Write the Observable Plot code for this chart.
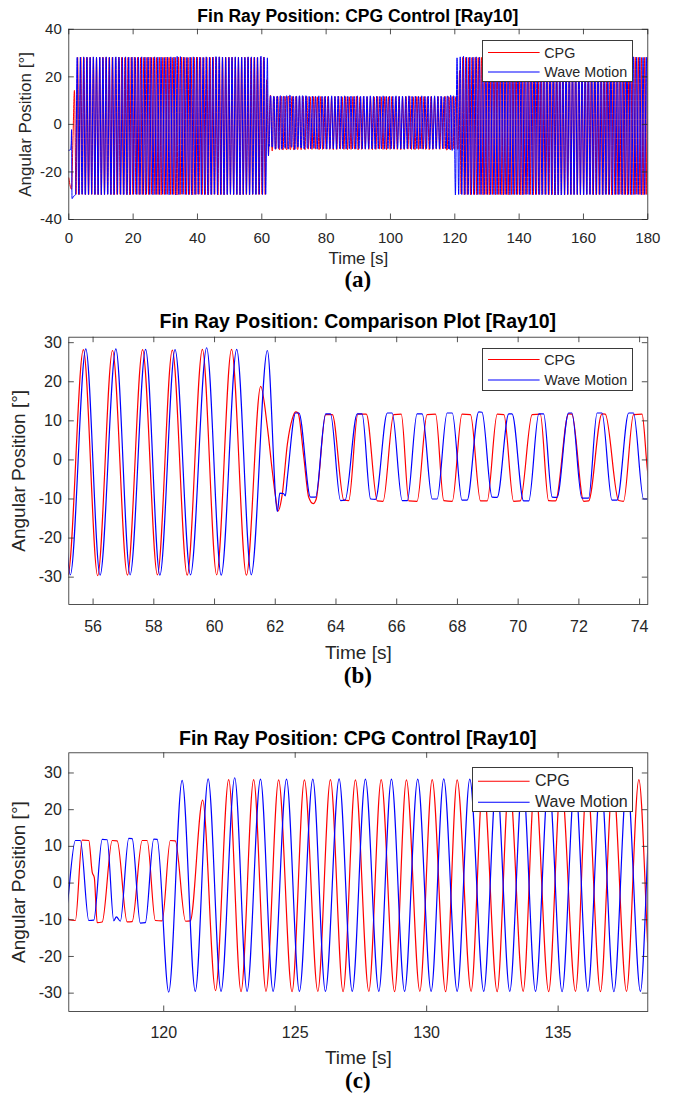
<!DOCTYPE html>
<html><head><meta charset="utf-8">
<script src="https://cdn.jsdelivr.net/npm/d3@7"></script>
<script src="https://cdn.jsdelivr.net/npm/@observablehq/plot@0.6"></script>
<style>
body{margin:0;background:#fff;}
#root{position:relative;width:673px;height:1097px;overflow:hidden;font-family:"Liberation Sans",Arial,sans-serif;}
.title{position:absolute;left:68.3px;width:579px;text-align:center;font-weight:bold;color:#000;line-height:1;white-space:nowrap;}
.cap{position:absolute;left:68.3px;width:579px;text-align:center;font-family:"Liberation Serif","Times New Roman",serif;font-weight:bold;line-height:0.8;color:#000;}
.legend{position:absolute;background:#fff;border:1px solid #3a3a3a;box-sizing:border-box;}
.legend svg{position:absolute;left:0;top:0;}
.legend .tx{position:absolute;line-height:1;color:#262626;white-space:nowrap;}
</style>
</head><body><div id="root"></div><script>
// ---------- titles / labels ----------
const titles = ["Fin Ray Position: CPG Control [Ray10]", "Fin Ray Position: Comparison Plot [Ray10]", "Fin Ray Position: CPG Control [Ray10]"];
const captions = ["(a)", "(b)", "(c)"];
const seriesNames = ["CPG", "Wave Motion"];
const xLabel = "Time [s]";
const yLabel = "Angular Position [°]";

// ---------- tick values ----------
const xTicksA = [0, 20, 40, 60, 80, 100, 120, 140, 160, 180];
const yTicksA = [-40, -20, 0, 20, 40];
const xTicksB = [56, 58, 60, 62, 64, 66, 68, 70, 72, 74];
const yTicksB = [-30, -20, -10, 0, 10, 20, 30];
const xTicksC = [120, 125, 130, 135];
const yTicksC = [-30, -20, -10, 0, 10, 20, 30];

// ---------- CPG (red) : [time s, angle deg] turning points ----------
const cpgStart = [[0,-22.5],[0.45,-26.0],[0.85,-27.3],[1.3,-6.0],[1.75,14.3],[2.25,-29.4],
[2.75,28.2],[3.23,-29.5],[3.73,28.3],[4.22,-29.4],[4.7,28.1],[5.2,-29.6],[5.69,28.2],[6.19,-29.5],[6.67,28.3],[7.15,-29.4],[7.66,28.2],[8.14,-29.5],[8.62,28.1],[9.12,-29.6],[9.61,28.2],[10.11,-29.5],[10.59,28.3],[11.07,-29.5],[11.58,28.2],[12.06,-29.4],[12.55,28.1],[13.04,-29.5],[13.52,28.2],[14.02,-29.6],[14.51,28.2],[15.01,-29.5],[15.49,28.3],[15.97,-29.4],[16.47,28.2],[16.96,-29.5],[17.46,28.1],[17.94,-29.5],[18.42,28.2],[18.92,-29.6],[19.41,28.2],[19.91,-29.5],[20.39,28.3],[20.87,-29.4],[21.37,28.2],[21.86,-29.5],[22.36,28.1],[22.84,-29.5],[23.32,28.2],[23.82,-29.6],[24.31,28.2],[24.81,-29.5],[25.29,28.3],[25.77,-29.4],[26.27,28.2],[26.76,-29.5],[27.26,28.1],[27.74,-29.5],[28.22,28.2],[28.72,-29.6],[29.21,28.2],[29.71,-29.5],[30.19,28.3],[30.67,-29.4],[31.17,28.2],[31.66,-29.5],[32.16,28.1],[32.64,-29.5],[33.12,28.2],[33.62,-29.7],[34.11,28.3],[34.61,-29.5],[35.09,28.3],[35.57,-29.4],[36.07,28.2],[36.56,-29.5],[37.06,28.1],[37.54,-29.5],[38.02,28.2],[38.52,-29.6],[39.01,28.2],[39.51,-29.5],[39.99,28.3],[40.47,-29.4],[40.97,28.2],[41.46,-29.5],[41.96,28.1],[42.44,-29.5],[42.92,28.2],[43.42,-29.6],[43.91,28.2],[44.41,-29.5],[44.89,28.3],[45.37,-29.4],[45.87,28.2],[46.36,-29.7],[46.86,28.4],[47.34,-29.5],[47.82,28.2],[48.32,-29.6],[48.81,28.2],[49.31,-29.5],[49.79,28.3],[50.27,-29.4],[50.77,28.2],[51.26,-29.5],[51.76,28.1],[52.24,-29.5],[52.72,28.2],[53.22,-29.6],[53.71,28.2],[54.2,-29.5],[54.69,28.3]];
const cpgZoomB = [[55.17,-29.5],[55.68,28.2],[56.15,-29.6],[56.64,28.0],[57.13,-29.5],[57.63,28.2],[58.12,-29.4],[58.61,28.1],[59.1,-29.5],[59.6,28.3],[60.07,-29.4],[60.56,28.3],[61.05,-29.5],[61.52,18.8],[61.74,8.4],[61.9,-2.7],[62.01,-9.5],[62.09,-13.1],[62.23,-8.8],[62.4,4.1],[62.56,10.5],[62.67,12.3],[62.75,12.0],[62.94,0.7],[63.1,-9.5],[63.25,-11.2],[63.35,-10.0],[63.66,11.6],[63.88,11.6],[64.26,-10.3],[64.42,-10.4],[64.72,11.7],[65.0,11.7],[65.36,-10.5],[65.55,-10.6],[65.9,11.6],[66.15,11.7],[66.4,-10.5],[66.67,-10.6],[67.0,11.6],[67.28,11.7],[67.55,-10.4],[67.83,-10.6],[68.15,11.7],[68.43,11.6],[68.76,-10.5],[68.98,-10.5],[69.31,11.7],[69.53,11.6],[69.85,-10.6],[70.07,-10.5],[70.46,11.6],[70.73,11.7],[71.0,-10.4],[71.23,-10.5],[71.66,11.8],[71.77,11.7],[72.16,-10.6],[72.32,-10.5],[72.76,11.8],[72.87,11.7],[73.31,-10.4],[73.47,-10.6],[73.8,11.6],[74.08,11.7],[74.26,-2.7]];
const cpgMid = [[74.48,-10.4],[75.04,11.6],[75.61,-10.5],[76.15,11.7],[76.69,-10.4],[77.26,11.6],[77.8,-10.6],[78.35,11.7],[78.91,-10.5],[79.47,11.6],[80.01,-10.4],[80.56,11.7],[81.12,-10.5],[81.68,11.6],[82.22,-10.6],[82.77,11.7],[83.33,-10.5],[83.89,11.8],[84.43,-10.4],[84.98,11.6],[85.54,-10.5],[86.1,11.7],[86.64,-10.6],[87.19,11.6],[87.75,-10.5],[88.31,11.7],[88.85,-10.4],[89.4,11.8],[89.96,-10.7],[90.52,11.6],[91.06,-10.5],[91.6,11.7],[92.16,-10.4],[92.73,11.6],[93.27,-10.5],[93.81,11.7],[94.37,-10.6],[94.94,11.6],[95.48,-10.5],[96.02,11.7],[96.58,-10.4],[97.15,11.6],[97.69,-10.5],[98.23,11.7],[98.79,-10.6],[99.36,11.6],[99.9,-10.5],[100.44,11.7],[101.0,-10.4],[101.57,11.6],[102.11,-10.5],[102.65,11.7],[103.21,-10.6],[103.78,11.6],[104.32,-10.5],[104.86,11.7],[105.42,-10.4],[105.99,11.8],[106.53,-10.5],[107.07,11.6],[107.63,-10.6],[108.2,11.7],[108.74,-10.5],[109.28,11.6],[109.84,-10.4],[110.41,11.7],[110.95,-10.5],[111.49,11.6],[112.05,-10.6],[112.61,11.7],[113.15,-10.5],[113.7,11.6],[114.26,-10.4],[114.82,11.7],[115.36,-10.5],[115.92,11.6]];
const cpgZoomC = [[116.4,-10.0],[116.64,-10.2],[116.9,11.7],[117.15,11.6],[117.28,3.0],[117.36,1.5],[117.47,-10.8],[117.66,-10.6],[118.04,11.6],[118.23,11.5],[118.61,-10.6],[118.8,-10.5],[119.18,11.6],[119.37,11.6],[119.68,-10.2],[119.94,-10.3],[120.25,11.6],[120.44,11.5],[120.83,-10.4],[121.01,-10.3],[121.48,22.6],[121.97,-29.3],[122.47,28.2],[122.94,-29.6],[123.42,28.2],[123.89,-29.5],[124.37,28.1],[124.88,-29.6],[125.35,28.1],[125.86,-29.5],[126.34,28.2],[126.82,-29.6],[127.29,28.1],[127.8,-29.5],[128.27,28.2],[128.78,-29.6],[129.23,28.1],[129.74,-29.5],[130.21,28.2],[130.72,-29.6],[131.16,28.1],[131.69,-29.5],[132.15,28.2],[132.68,-29.6],[133.14,28.1],[133.67,-29.5],[134.12,28.2],[134.64,-29.6],[135.11,28.1],[135.66,-29.5],[136.1,28.2],[136.61,-29.6],[137.08,28.1],[137.6,-29.5],[138.07,28.2],[138.55,-29.5]];
const cpgEnd = [[139.05,28.2],[139.53,-29.5],[140.02,28.1],[140.52,-29.6],[141.0,28.2],[141.48,-29.5],[141.97,28.3],[142.47,-29.4],[142.95,28.2],[143.43,-29.5],[143.92,28.1],[144.42,-29.6],[144.9,28.2],[145.38,-29.5],[145.87,28.2],[146.37,-29.5],[146.85,28.3],[147.33,-29.4],[147.82,28.2],[148.32,-29.5],[148.8,28.1],[149.28,-29.6],[149.77,28.2],[150.27,-29.5],[150.75,28.2],[151.23,-29.7],[151.72,28.3],[152.22,-29.6],[152.7,28.2],[153.18,-29.5],[153.67,28.1],[154.17,-29.6],[154.65,28.2],[155.13,-29.5],[155.62,28.2],[156.12,-29.5],[156.6,28.3],[157.08,-29.4],[157.57,28.2],[158.07,-29.5],[158.55,28.1],[159.03,-29.6],[159.52,28.2],[160.02,-29.5],[160.5,28.2],[160.98,-29.5],[161.47,28.3],[161.97,-29.4],[162.45,28.2],[162.93,-29.5],[163.42,28.1],[163.92,-29.6],[164.4,28.2],[164.88,-29.5],[165.37,28.2],[165.87,-29.5],[166.35,28.3],[166.83,-29.4],[167.32,28.2],[167.82,-29.5],[168.3,28.1],[168.78,-29.6],[169.27,28.2],[169.77,-29.5],[170.25,28.2],[170.73,-29.5],[171.22,28.3],[171.72,-29.4],[172.2,28.2],[172.68,-29.5],[173.17,28.1],[173.67,-29.6],[174.15,28.2],[174.63,-29.5],[175.12,28.2],[175.62,-29.5],[176.1,28.3],[176.58,-29.4],[177.07,28.2],[177.57,-29.5],[178.05,28.1],[178.53,-29.6],[179.02,28.2],[179.5,-29.5],[179.93,28.2],[180.0,26.3]];

// ---------- Wave Motion (blue) : [time s, angle deg] ----------
const waveStart = [[0,-10.9],[0.55,-10.6],[0.75,-8.0],[0.86,-2.2],[1.0,-31.2],[1.5,-30.2],[2.1,-29.6],[2.6,28.2],
[3.09,-29.5],[3.6,28.3],[4.1,-29.4],[4.61,28.4],[5.09,-29.5],[5.61,28.3],[6.1,-29.5],[6.62,28.2],[7.1,-29.4],[7.62,28.4],[8.11,-29.5],[8.61,28.3],[9.11,-29.5],[9.63,28.3],[10.11,-29.6],[10.62,28.2],[11.12,-29.5],[11.63,28.4],[12.11,-29.4],[12.63,28.3],[13.12,-29.5],[13.64,28.3],[14.12,-29.5],[14.64,28.4],[15.13,-29.4],[15.63,28.3],[16.13,-29.5],[16.65,28.2],[17.13,-29.5],[17.65,28.4],[18.14,-29.6],[18.64,28.3],[19.14,-29.5],[19.66,28.3],[20.14,-29.4],[20.65,28.2],[21.15,-29.5],[21.66,28.3],[22.14,-29.5],[22.66,28.4],[23.15,-29.5],[23.67,28.3],[24.16,-29.4],[24.67,28.3],[25.16,-29.5],[25.66,28.2],[26.16,-29.6],[26.68,28.4],[27.17,-29.5],[27.68,28.3],[28.17,-29.5],[28.69,28.3],[29.17,-29.4],[29.68,28.2],[30.18,-29.5],[30.68,28.3],[31.18,-29.6],[31.7,28.4],[32.18,-29.5],[32.69,28.3],[33.19,-29.7],[33.69,28.6],[34.19,-29.5],[34.71,28.5],[35.19,-29.4],[35.7,28.3],[36.2,-29.5],[36.7,28.2],[37.2,-29.5],[37.72,28.3],[38.2,-29.6],[38.71,28.4],[39.21,-29.5],[39.72,28.3],[40.21,-29.4],[40.71,28.3],[41.21,-29.5],[41.73,28.2],[42.21,-29.5],[42.72,28.4],[43.22,-29.6],[43.73,28.3],[44.22,-29.5],[44.73,28.3],[45.22,-29.4],[45.74,28.5],[46.23,-29.5],[46.73,28.4],[47.23,-29.5],[47.75,28.3],[48.23,-29.6],[48.74,28.3],[49.24,-29.5],[49.75,28.2],[50.24,-29.4],[50.74,28.3],[51.24,-29.5],[51.76,28.4],[52.25,-29.5],[52.75,28.3],[53.25,-29.6],[53.76,28.3],[54.25,-29.5],[54.76,28.2]];
const waveZoomB = [[55.25,-29.4],[55.76,28.4],[56.23,-29.5],[56.75,28.4],[57.22,-29.4],[57.73,28.3],[58.2,-29.5],[58.7,28.2],[59.21,-29.4],[59.74,28.7],[60.22,-29.5],[60.73,28.3],[61.21,-29.4],[61.74,28.0],[62.07,-13.2],[62.15,-8.5],[62.27,-8.6],[62.33,-9.2],[62.4,-4.4],[62.67,12.0],[62.78,12.0],[63.16,-9.5],[63.33,-9.5],[63.66,11.8],[63.82,11.8],[64.15,-10.4],[64.3,-10.3],[64.7,11.8],[64.86,11.8],[65.14,-10.0],[65.3,-10.1],[65.69,12.0],[65.85,12.0],[66.18,-10.4],[66.35,-10.4],[66.67,11.8],[66.84,11.8],[67.17,-10.0],[67.33,-10.0],[67.66,12.0],[67.83,12.0],[68.15,-10.3],[68.32,-10.3],[68.7,12.3],[68.81,12.2],[69.14,-9.5],[69.31,-9.6],[69.69,11.8],[69.8,11.8],[70.18,-10.5],[70.35,-10.5],[70.68,11.8],[70.84,11.8],[71.12,-9.5],[71.28,-9.6],[71.66,12.0],[71.77,12.0],[72.1,-9.8],[72.32,-9.8],[72.6,12.0],[72.76,12.0],[73.09,-10.3],[73.26,-10.3],[73.64,12.0],[73.8,12.0],[74.13,-10.0],[74.3,-10.0]];
const waveMid = [[74.72,11.8],[75.21,-10.3],[75.73,11.9],[76.2,-10.1],[76.71,11.8],[77.22,-10.4],[77.72,12.0],[78.21,-10.2],[78.74,11.8],[79.22,-10.3],[79.71,11.9],[80.21,-10.4],[80.72,11.8],[81.2,-10.2],[81.72,12.0],[82.22,-10.3],[82.73,11.8],[83.21,-10.4],[83.72,11.9],[84.22,-10.2],[84.71,11.8],[85.2,-10.3],[85.73,12.0],[86.21,-10.4],[86.72,11.8],[87.22,-10.2],[87.72,11.9],[88.2,-10.3],[88.71,11.8],[89.21,-10.4],[89.73,12.0],[90.21,-10.2],[90.72,11.8],[91.22,-10.3],[91.72,11.9],[92.21,-10.4],[92.71,11.8],[93.2,-10.2],[93.73,12.0],[94.22,-10.3],[94.72,11.8],[95.22,-10.4],[95.72,11.9],[96.21,-10.2],[96.71,11.8],[97.2,-10.3],[97.73,12.0],[98.22,-10.4],[98.72,11.8],[99.22,-10.2],[99.72,11.9],[100.21,-10.3],[100.73,11.8],[101.21,-10.4],[101.72,12.0],[102.22,-10.2],[102.73,11.8],[103.21,-10.3],[103.72,11.9],[104.22,-10.4],[104.72,11.8],[105.21,-10.2],[105.73,12.0],[106.22,-10.3],[106.72,11.8],[107.22,-10.4],[107.73,11.9],[108.21,-10.2],[108.73,11.8],[109.22,-10.3],[109.72,12.0],[110.22,-10.4],[110.73,11.8],[111.21,-10.2],[111.72,11.9],[112.22,-10.3],[112.73,11.8],[113.22,-10.4],[113.72,12.0],[114.21,-10.2],[114.73,11.8],[115.22,-10.3],[115.73,11.9]];
const waveZoomC = [[116.22,-10.2],[116.64,11.6],[116.83,11.6],[117.15,-10.2],[117.34,-10.1],[117.66,11.9],[117.85,11.8],[118.1,-10.3],[118.2,-9.2],[118.35,-10.4],[118.67,12.2],[118.8,12.1],[119.11,-10.9],[119.3,-10.8],[119.62,12.0],[119.75,11.9],[120.19,-29.7],[120.7,28.0],[121.2,-29.5],[121.69,28.4],[122.18,-29.5],[122.7,28.7],[123.17,-29.5],[123.68,28.3],[124.16,-29.5],[124.67,28.3],[125.16,-29.5],[125.67,28.3],[126.15,-29.5],[126.67,28.4],[127.17,-29.5],[127.67,28.3],[128.18,-29.5],[128.66,28.3],[129.16,-29.5],[129.66,28.3],[130.17,-29.5],[130.65,28.4],[131.16,-29.5],[131.64,28.3],[132.17,-29.5],[132.66,28.3],[133.16,-29.5],[133.65,28.3],[134.14,-29.5],[134.64,28.3],[135.15,-29.6],[135.64,28.3],[136.13,-29.5],[136.62,28.3],[137.12,-29.6],[137.62,28.3],[138.13,-29.5],[138.58,28.3]];
const waveEnd = [[139.13,-29.5],[139.62,28.3],[140.12,-29.5],[140.63,28.4],[141.12,-29.6],[141.61,28.3],[142.12,-29.5],[142.62,28.3],[143.11,-29.5],[143.61,28.2],[144.11,-29.6],[144.62,28.3],[145.11,-29.5],[145.6,28.4],[146.11,-29.5],[146.61,28.3],[147.1,-29.6],[147.61,28.3],[148.1,-29.5],[148.6,28.2],[149.1,-29.5],[149.59,28.3],[150.1,-29.6],[150.6,28.4],[151.09,-29.7],[151.6,28.3],[152.09,-29.6],[152.59,28.3],[153.09,-29.7],[153.58,28.2],[154.09,-29.6],[154.59,28.3],[155.08,-29.5],[155.59,28.4],[156.08,-29.5],[156.58,28.3],[157.08,-29.6],[157.57,28.3],[158.08,-29.5],[158.58,28.2],[159.07,-29.5],[159.58,28.3],[160.07,-29.6],[160.57,28.4],[161.07,-29.5],[161.56,28.3],[162.07,-29.5],[162.57,28.3],[163.06,-29.6],[163.57,28.2],[164.06,-29.5],[164.56,28.3],[165.06,-29.5],[165.55,28.4],[166.06,-29.6],[166.56,28.3],[167.05,-29.5],[167.56,28.3],[168.05,-29.5],[168.55,28.2],[169.05,-29.6],[169.54,28.3],[170.05,-29.5],[170.55,28.4],[171.04,-29.5],[171.55,28.3],[172.04,-29.6],[172.54,28.3],[173.04,-29.5],[173.53,28.2],[174.04,-29.5],[174.54,28.3],[175.03,-29.6],[175.54,28.4],[176.03,-29.5],[176.53,28.3],[177.03,-29.5],[177.52,28.3],[178.03,-29.6],[178.53,28.2],[179.02,-29.5],[179.52,28.3],[180.0,-29.4]];

const cpg = [...cpgStart, ...cpgZoomB, ...cpgMid, ...cpgZoomC, ...cpgEnd];
const wave = [...waveStart, ...waveZoomB, ...waveMid, ...waveZoomC, ...waveEnd];

const colors = {cpg: "#ff0000", wave: "#0000ff", axis: "#262626"};
const root = document.getElementById("root");
const SVGNS = "http://www.w3.org/2000/svg";

function el(tag, cls, css, text) {
  const e = document.createElement(tag);
  if (cls) e.className = cls;
  Object.assign(e.style, css || {});
  if (text != null) e.textContent = text;
  return e;
}

function panel(c) {
  const ml = 68.3, mr = 25.7, tk = 5.5;
  const innerW = 673 - ml - mr;
  const innerH = c.height - c.mt - c.mb;
  const tickStyle = {stroke: colors.axis, strokeWidth: 0.8};
  const svg = Plot.plot({
    width: 673, height: c.height,
    marginLeft: ml, marginRight: mr, marginTop: c.mt, marginBottom: c.mb,
    style: {background: "transparent", fontFamily: "'Liberation Sans', Arial, sans-serif", color: colors.axis, overflow: "visible"},
    x: {domain: c.xDomain},
    y: {domain: c.yDomain},
    marks: [
      Plot.line(cpg, {x: d => d[0], y: d => d[1], stroke: colors.cpg, strokeWidth: c.sw, curve: "monotone-x", clip: true}),
      Plot.line(wave, {x: d => d[0], y: d => d[1], stroke: colors.wave, strokeWidth: c.sw, curve: "monotone-x", clip: true}),
      Plot.tickX(c.xTicks, {x: d => d, insetTop: innerH - tk, ...tickStyle}),
      Plot.tickX(c.xTicks, {x: d => d, insetBottom: innerH - tk, ...tickStyle}),
      Plot.tickY(c.yTicks, {y: d => d, insetRight: innerW - tk, ...tickStyle}),
      Plot.tickY(c.yTicks, {y: d => d, insetLeft: innerW - tk, ...tickStyle}),
      Plot.frame({stroke: colors.axis, strokeWidth: 0.8}),
      Plot.axisX({ticks: c.xTicks, tickSize: 0, tickPadding: c.xPad, fontSize: c.tickFs, tickFormat: d => String(d), label: null, fill: colors.axis}),
      Plot.axisY({ticks: c.yTicks, tickSize: 0, tickPadding: 7, fontSize: c.tickFs, tickFormat: d => String(d), label: null, fill: colors.axis}),
      Plot.text([xLabel], {text: d => d, frameAnchor: "bottom", lineAnchor: "top", textAnchor: "middle", dy: c.xLabDy, fontSize: c.labFs, fill: colors.axis}),
      Plot.text([yLabel], {text: d => d, frameAnchor: "left", textAnchor: "middle", lineAnchor: "middle", rotate: -90, dx: c.yLabDx, fontSize: c.labFs, fill: colors.axis})
    ]
  });
  svg.style.position = "absolute";
  svg.style.left = "0px";
  svg.style.top = c.top + "px";
  root.appendChild(svg);

  // title
  root.appendChild(el("div", "title", {top: (c.titleBase - 0.8465 * c.titleFs) + "px", fontSize: c.titleFs + "px"}, c.title));
  // caption (line-height 0.8 → baseline sits 0.7375em below the box top)
  root.appendChild(el("div", "cap", {top: (c.capBase - 0.7375 * c.capFs) + "px", fontSize: c.capFs + "px"}, c.caption));
  // legend
  const L = c.legend;
  const box = el("div", "legend", {left: L.x + "px", top: L.y + "px", width: L.w + "px", height: L.h + "px"});
  const ls = document.createElementNS(SVGNS, "svg");
  ls.setAttribute("width", L.w); ls.setAttribute("height", L.h);
  [[seriesNames[0], colors.cpg, L.r1], [seriesNames[1], colors.wave, L.r2]].forEach(([name, col, ry]) => {
    const line = document.createElementNS(SVGNS, "line");
    line.setAttribute("x1", L.lx0); line.setAttribute("x2", L.lx1);
    line.setAttribute("y1", ry); line.setAttribute("y2", ry);
    line.setAttribute("stroke", col); line.setAttribute("stroke-width", 1.1);
    ls.appendChild(line);
    box.appendChild(el("div", "tx", {left: L.tx + "px", top: (ry - 0.488 * L.fs) + "px", fontSize: L.fs + "px"}, name));
  });
  box.appendChild(ls);
  root.appendChild(box);
}

panel({
  top: 0, height: 270, mt: 28.8, mb: 51,
  xDomain: [0, 180], yDomain: [-40, 40], xTicks: xTicksA, yTicks: yTicksA,
  sw: 1, tickFs: 15, labFs: 17, xPad: 12.5, xLabDy: 32.5, yLabDx: -43.3,
  title: titles[0], titleFs: 17.5, titleBase: 22.7,
  caption: captions[0], capFs: 23, capBase: 288,
  legend: {x: 481.7, y: 40, w: 151.6, h: 42.3, r1: 11.5, r2: 31, lx0: 5, lx1: 56.6, tx: 61.6, fs: 14.3}
});
panel({
  top: 300, height: 370, mt: 36.7, mb: 66,
  xDomain: [55.2, 74.27], yDomain: [-37, 31.4], xTicks: xTicksB, yTicks: yTicksB,
  sw: 1.2, tickFs: 16, labFs: 19, xPad: 16, xLabDy: 41, yLabDx: -49.5,
  title: titles[1], titleFs: 19.5, titleBase: 328.7,
  caption: captions[1], capFs: 23, capBase: 683.5,
  legend: {x: 481.7, y: 348.3, w: 151.6, h: 42.4, r1: 10.5, r2: 31, lx0: 5, lx1: 56.6, tx: 61.6, fs: 14.3}
});
panel({
  top: 740, height: 330, mt: 12.3, mb: 59,
  xDomain: [116.39, 138.41], yDomain: [-35, 35.5], xTicks: xTicksC, yTicks: yTicksC,
  sw: 1.2, tickFs: 16, labFs: 19, xPad: 15, xLabDy: 39, yLabDx: -50,
  title: titles[2], titleFs: 19.5, titleBase: 746,
  caption: captions[2], capFs: 23, capBase: 1089,
  legend: {x: 471.7, y: 766.7, w: 161.6, h: 45.6, r1: 13.3, r2: 34.3, lx0: 5, lx1: 56.6, tx: 62.3, fs: 16}
});
</script></body></html>
